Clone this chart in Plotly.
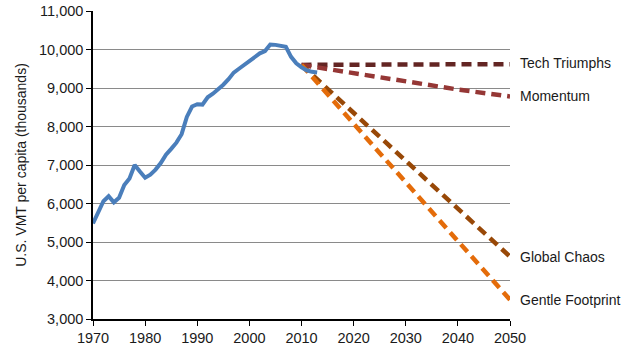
import plotly.graph_objects as go

hist_years = list(range(1970, 2014))
hist_vmt = [5480, 5780, 6060, 6190, 6030, 6150, 6480, 6650, 7000, 6830,
            6670, 6750, 6880, 7050, 7270, 7420, 7580, 7800, 8250, 8520,
            8580, 8570, 8760, 8850, 8960, 9085, 9230, 9400, 9500, 9600,
            9720, 9800, 9900, 9960, 10130, 10120, 10100, 10070, 9810, 9640,
            9540, 9460, 9420, 9400]

proj_years = [2010, 2020, 2030, 2040, 2050]
tech_triumphs = [9600, 9605, 9610, 9615, 9620]
momentum = [9600, 9380, 9170, 8960, 8780]
global_chaos = [9600, 8350, 7100, 5850, 4620]
gentle_footprint = [9600, 8070, 6550, 5020, 3500]

scenarios = [
    ("Tech Triumphs", tech_triumphs, "#632523", 1),
    ("Momentum", momentum, "#953735", 0),
    ("Global Chaos", global_chaos, "#984807", 0),
    ("Gentle Footprint", gentle_footprint, "#E46C0A", 0),
]

fig = go.Figure()
for name, vals, color, _ in scenarios:
    fig.add_trace(go.Scatter(x=proj_years, y=vals, mode="lines", name=name,
                             line=dict(color=color, width=4.5, dash="10px,6px")))
fig.add_trace(go.Scatter(x=hist_years, y=hist_vmt, mode="lines", name="Historical",
                         line=dict(color="#4A7EBB", width=4)))

font = "Liberation Sans, Arial, sans-serif"
for name, vals, color, ys in scenarios:
    fig.add_annotation(x=1, xref="paper", y=vals[-1], yref="y", text=name,
                       showarrow=False, xanchor="left", yanchor="middle",
                       xshift=8, yshift=ys,
                       font=dict(family=font, size=14, color="#1a1a1a"))

fig.update_layout(
    width=628, height=352,
    margin=dict(l=93, r=118, t=10.5, b=32.5, autoexpand=False),
    paper_bgcolor="white", plot_bgcolor="white",
    showlegend=False,
    font=dict(family=font, size=14.5, color="#1a1a1a"),
)
fig.update_xaxes(range=[1970, 2050], dtick=10, tick0=1970, showgrid=False,
                 showline=True, linecolor="black", linewidth=1.5, automargin=False,
                 ticks="outside", ticklen=5, tickcolor="black", zeroline=False)
fig.update_yaxes(range=[3000, 11000], dtick=1000, tickformat=",d",
                 showgrid=True, gridcolor="#8a8a8a", gridwidth=1, automargin=False,
                 showline=True, linecolor="black", linewidth=1.5,
                 ticks="outside", ticklen=5, tickcolor="black", zeroline=False,
                 title=dict(text="U.S. VMT per capita (thousands)",
                            font=dict(size=14), standoff=9))

fig.write_html("out.html")
